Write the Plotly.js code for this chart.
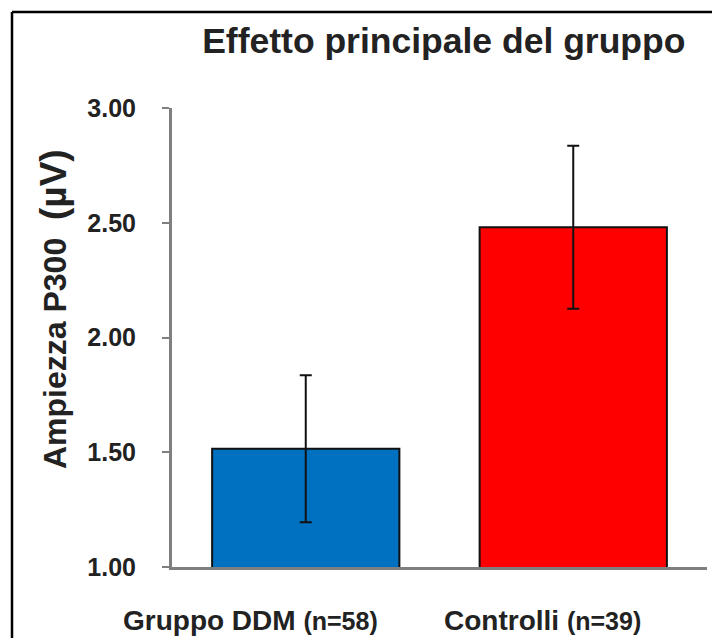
<!DOCTYPE html>
<html>
<head>
<meta charset="utf-8">
<script src="https://cdn.plot.ly/plotly-3.0.1.min.js"></script>
<style>
html,body{margin:0;padding:0;background:#fff;}
#chart{width:712px;height:638px;}
</style>
</head>
<body>
<div id="chart"></div>
<script>
const categories = ["Gruppo DDM", "Controlli"];
const nLabels = ["(n=58)", "(n=39)"];
const means = [1.515, 2.48];
const errors = [0.32, 0.355];
const barColors = ["#0070C0", "#FF0000"];
const yTicks = [1.0, 1.5, 2.0, 2.5, 3.0];
const yTickText = ["1.00", "1.50", "2.00", "2.50", "3.00"];

const FONT = 'Liberation Sans, Arial, Helvetica, sans-serif';
const labelShift = [-55, -31];

const trace = {
  type: 'bar',
  x: [0, 1],
  y: means,
  width: 0.7,
  marker: {color: barColors, line: {color: '#111', width: 2}},
  error_y: {type: 'data', array: errors, visible: true, color: '#111', thickness: 2, width: 6},
  hoverinfo: 'none'
};

const catAnnots = categories.map((c, i) => ({
  text: '<b>' + c + ' <span style="font-size:25px">' + nLabels[i] + '</span></b>',
  xref: 'x', yref: 'paper', x: i, y: (567 - 620) / 459,
  xanchor: 'center', yanchor: 'middle', xshift: labelShift[i],
  showarrow: false,
  font: {family: FONT, size: 28, color: '#222'}
}));

const layout = {
  width: 712, height: 638,
  margin: {l: 172, r: 5, t: 108, b: 71},
  paper_bgcolor: '#fff', plot_bgcolor: '#fff',
  showlegend: false,
  font: {family: FONT, color: '#222'},
  title: {
    text: '<b>Effetto principale del gruppo</b>',
    font: {family: FONT, size: 35.5, color: '#222'},
    x: 0.508, xref: 'paper', xanchor: 'center',
    y: 1 - 41/638, yref: 'container', yanchor: 'middle'
  },
  xaxis: {
    range: [-0.5, 1.5],
    tickmode: 'array', tickvals: [0, 1], ticktext: categories,
    showticklabels: false,
    ticks: '', showgrid: false, zeroline: false,
    showline: true, linecolor: '#7f7f7f', linewidth: 3
  },
  yaxis: {
    range: [1, 3],
    tickmode: 'array', tickvals: yTicks, ticktext: yTickText,
    ticks: 'outside', ticklen: 7, tickwidth: 2, tickcolor: '#7f7f7f',
    showgrid: false, zeroline: false,
    showline: true, linecolor: '#7f7f7f', linewidth: 3,
    tickfont: {family: FONT, size: 25, color: '#222', weight: 'bold'},
    ticklabelstandoff: 21
  },
  annotations: [{
    text: '<b>Ampiezza P300  <span style="font-size:37px">(µV)</span></b>',
    xref: 'paper', yref: 'paper',
    x: (53 - 172) / 535, y: (567 - 309) / 459,
    xanchor: 'center', yanchor: 'middle',
    textangle: -90, showarrow: false,
    font: {family: FONT, size: 32, color: '#222'}
  }].concat(catAnnots),
  shapes: [
    {type: 'line', xref: 'paper', yref: 'paper',
     x0: (12 - 172) / 535, x1: (720 - 172) / 535,
     y0: (567 - 12) / 459, y1: (567 - 12) / 459,
     line: {color: '#000', width: 2.5}},
    {type: 'line', xref: 'paper', yref: 'paper',
     x0: (12 - 172) / 535, x1: (12 - 172) / 535,
     y0: (567 - 12) / 459, y1: (567 - 650) / 459,
     line: {color: '#000', width: 2.5}}
  ]
};

Plotly.newPlot('chart', [trace], layout, {displayModeBar: false, staticPlot: true});
</script>
</body>
</html>
